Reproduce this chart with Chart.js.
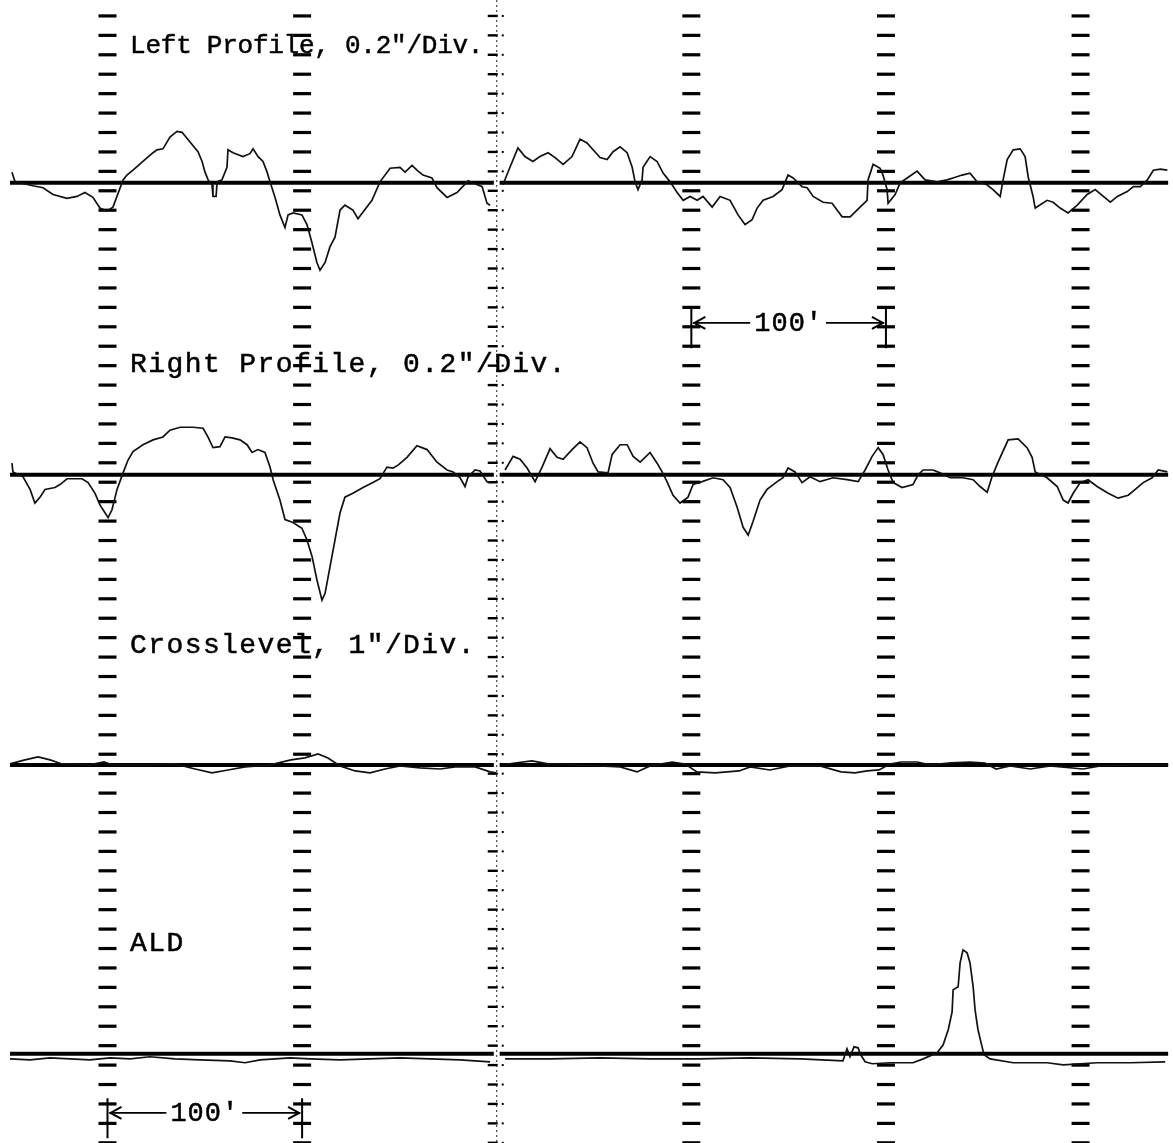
<!DOCTYPE html>
<html>
<head>
<meta charset="utf-8">
<script src="https://cdn.jsdelivr.net/npm/chart.js@4.4.1/dist/chart.umd.min.js"></script>
<style>
  html, body { margin: 0; padding: 0; background: #fff; }
  canvas { display: block; }
</style>
</head>
<body>
<canvas id="strip" width="1173" height="1143"></canvas>
<script>
// Track geometry recording. Distance along track in feet;
// profiles and crosslevel in inches, ALD in chart divisions. null = paper splice.
const leftProfile = [
  [-49.1,0.11],[-47.5,0.01],[-38.3,-0.03],[-33.1,-0.05],[-28.0,-0.12],[-20.8,-0.16],[-15.7,-0.14],[-11.6,-0.10],
  [-7.5,-0.15],[-3.9,-0.26],[-0.3,-0.29],[2.8,-0.25],[8.0,0.03],[10.0,0.08],[13.1,0.13],[18.2,0.22],[23.4,0.31],
  [25.4,0.34],[28.5,0.35],[32.1,0.47],[35.7,0.53],[38.3,0.52],[42.4,0.42],[46.5,0.32],[48.6,0.22],[50.1,0.11],
  [51.7,0.03],[53.7,-0.02],[54.2,-0.14],[55.8,-0.14],[56.3,0.01],[58.8,0.03],[61.4,0.16],[61.9,0.34],[64.5,0.31],
  [69.6,0.27],[73.2,0.30],[74.8,0.35],[77.4,0.27],[79.9,0.22],[82.0,0.11],[83.5,0.01],[86.1,-0.15],[88.6,-0.33],
  [91.2,-0.46],[92.8,-0.33],[95.3,-0.31],[99.9,-0.33],[102.5,-0.43],[105.1,-0.62],[107.6,-0.82],[109.2,-0.90],
  [111.8,-0.82],[114.3,-0.66],[116.9,-0.56],[119.5,-0.28],[122.0,-0.23],[126.1,-0.28],[128.7,-0.37],[131.3,-0.30],
  [135.9,-0.18],[140.0,0.01],[145.2,0.15],[150.3,0.16],[152.9,0.11],[156.5,0.18],[159.0,0.13],[162.1,0.08],
  [166.7,0.05],[169.3,-0.05],[174.5,-0.15],[179.6,-0.10],[185.3,0.02],[188.9,-0.01],[192.5,-0.04],[195.0,-0.21],
  [196.6,-0.23],[200,null],[203.2,-0.02],[206.8,0.16],[210.9,0.36],[214.5,0.27],[218.6,0.22],[222.2,0.27],
  [226.4,0.31],[230.0,0.26],[234.1,0.19],[238.7,0.27],[242.8,0.45],[246.4,0.41],[249.5,0.34],[253.1,0.26],
  [256.7,0.24],[259.8,0.32],[263.4,0.37],[267.0,0.31],[269.6,0.16],[271.1,0.01],[272.6,-0.07],[274.7,0.03],
  [275.2,0.16],[278.8,0.27],[282.4,0.22],[285.5,0.10],[289.1,0.01],[292.7,-0.10],[295.8,-0.18],[299.4,-0.14],
  [303.0,-0.18],[306.0,-0.14],[310.7,-0.25],[314.8,-0.14],[319.9,-0.18],[324.0,-0.33],[327.6,-0.43],[331.2,-0.38],
  [333.8,-0.26],[336.9,-0.18],[342.0,-0.14],[346.6,-0.07],[349.7,0.08],[352.3,0.05],[356.9,-0.04],[359.5,-0.05],
  [362.6,-0.14],[367.7,-0.20],[372.3,-0.21],[377.5,-0.35],[381.6,-0.35],[386.7,-0.25],[390.3,-0.18],[390.8,0.03],
  [393.4,0.19],[397.0,0.15],[398.5,0.08],[400.6,-0.07],[401.1,-0.21],[404.7,-0.12],[407.3,0.00],[410.9,0.05],
  [416.0,0.12],[420.1,0.03],[426.3,0.01],[431.4,0.03],[434.5,0.05],[439.1,0.08],[443.2,0.10],[446.8,0.01],
  [451.9,-0.02],[455.0,-0.07],[458.7,-0.14],[460.2,0.03],[462.3,0.24],[465.4,0.34],[469.0,0.35],[471.5,0.27],
  [473.1,0.06],[475.6,-0.14],[476.7,-0.26],[482.8,-0.18],[485.9,-0.20],[489.5,-0.26],[493.6,-0.31],[498.3,-0.23],
  [503.4,-0.12],[507.5,-0.07],[511.7,-0.14],[515.3,-0.20],[518.9,-0.14],[524.0,-0.09],[527.1,-0.04],[530.7,-0.04],
  [534.3,0.03],[537.4,0.13],[541.0,0.14],[544.6,0.13]
];

const rightProfile = [
  [-49.1,0.12],[-48.6,0.03],[-43.4,-0.02],[-39.8,-0.15],[-37.3,-0.29],[-34.7,-0.23],[-32.1,-0.15],[-27.0,-0.13],
  [-24.4,-0.10],[-20.8,-0.04],[-13.1,-0.04],[-10.0,-0.08],[-6.4,-0.19],[-3.9,-0.31],[-1.3,-0.39],[0.3,-0.44],
  [2.3,-0.36],[4.9,-0.15],[8.0,0.02],[10.5,0.15],[13.1,0.24],[18.2,0.31],[23.4,0.36],[28.5,0.39],[32.1,0.46],
  [37.3,0.49],[43.9,0.49],[49.1,0.48],[51.6,0.39],[54.2,0.28],[57.8,0.29],[60.4,0.39],[64.0,0.38],[68.1,0.36],
  [71.7,0.31],[74.3,0.23],[77.3,0.26],[80.9,0.23],[83.5,0.08],[85.1,-0.05],[88.6,-0.26],[91.2,-0.46],[95.3,-0.49],
  [99.9,-0.55],[102.5,-0.67],[105.1,-0.84],[107.6,-1.08],[110.2,-1.29],[111.8,-1.22],[114.3,-0.95],[116.9,-0.67],
  [119.5,-0.39],[122.0,-0.23],[126.1,-0.19],[131.3,-0.13],[136.4,-0.08],[140.0,-0.04],[143.6,0.08],[146.7,0.07],
  [149.3,0.10],[153.9,0.18],[159.0,0.30],[164.2,0.26],[169.3,0.13],[174.5,0.05],[177.6,0.03],[181.2,-0.03],
  [183.7,-0.12],[185.3,-0.02],[188.9,0.05],[191.4,0.04],[195.0,-0.07],[197.6,-0.08],[200,null],[204.3,0.05],
  [208.4,0.19],[212.0,0.16],[215.6,0.07],[219.7,-0.07],[223.3,0.08],[227.4,0.27],[231.0,0.18],[234.1,0.16],
  [238.7,0.26],[242.8,0.34],[246.4,0.28],[249.5,0.12],[252.1,0.03],[257.2,0.02],[259.3,0.21],[263.4,0.31],
  [267.0,0.31],[270.1,0.19],[273.7,0.13],[278.8,0.23],[282.4,0.12],[285.0,0.03],[287.5,-0.07],[290.6,-0.21],
  [294.2,-0.29],[298.3,-0.23],[300.9,-0.10],[305.5,-0.07],[311.2,-0.03],[316.3,-0.05],[319.9,-0.13],[323.5,-0.33],
  [326.6,-0.54],[329.2,-0.62],[331.7,-0.48],[335.3,-0.26],[338.9,-0.15],[344.1,-0.07],[347.1,-0.03],[349.7,0.07],
  [353.3,0.03],[356.9,-0.08],[361.0,-0.02],[366.1,-0.07],[372.8,-0.03],[380.0,-0.05],[385.7,-0.07],[389.3,0.05],
  [392.9,0.19],[396.0,0.28],[398.5,0.21],[401.1,0.05],[403.7,-0.08],[408.3,-0.13],[413.9,-0.10],[416.5,0.00],
  [419.1,0.05],[424.2,0.05],[427.8,0.02],[433.0,-0.03],[439.6,-0.03],[444.8,-0.05],[448.4,-0.12],[452.0,-0.18],
  [454.5,-0.02],[457.6,0.13],[462.8,0.36],[467.9,0.37],[472.5,0.28],[475.1,0.18],[476.7,0.03],[482.8,-0.03],
  [488.0,-0.12],[491.1,-0.26],[493.6,-0.29],[496.2,-0.19],[499.8,-0.08],[503.9,-0.05],[508.5,-0.12],[514.2,-0.19],
  [519.3,-0.24],[524.5,-0.21],[528.1,-0.15],[532.2,-0.08],[536.8,-0.03],[539.9,0.05],[544.6,0.03]
];

const crosslevel = [
  [-50.1,0.05],[-42.4,0.26],[-35.7,0.41],[-29.5,0.26],[-23.4,0.05],[-9.0,0.00],[-1.8,0.15],[2.3,0.00],
  [21.8,0.00],[34.7,0.05],[45.0,-0.21],[53.7,-0.41],[61.9,-0.26],[70.7,-0.10],[83.5,0.00],[94.3,0.26],
  [101.5,0.36],[108.2,0.57],[113.3,0.36],[119.5,-0.05],[127.2,-0.31],[134.9,-0.41],[142.6,-0.21],[150.3,-0.05],
  [160.6,-0.15],[170.9,-0.21],[178.6,-0.10],[188.9,-0.10],[196.6,-0.36],[199.6,-0.41],[201.5,null],[203.2,0.00],
  [209.4,0.10],[218.1,0.21],[226.4,0.05],[242.8,0.00],[263.4,-0.10],[272.1,-0.36],[278.8,-0.05],[290.1,0.15],
  [296.8,0.05],[302.9,-0.36],[312.2,-0.41],[324.5,-0.31],[330.2,-0.10],[340.4,-0.26],[350.7,-0.05],[366.1,-0.05],
  [376.9,-0.36],[384.1,-0.41],[390.3,-0.31],[396.4,-0.26],[402.1,0.05],[407.8,0.15],[416.0,0.15],[422.7,0.00],
  [433.5,0.10],[443.2,0.15],[450.9,0.10],[456.6,-0.21],[463.8,-0.05],[474.1,-0.21],[484.4,-0.05],[501.3,-0.21],
  [510.1,-0.05],[525.5,0.00],[545.0,0.00]
];

const ald = [
  [-50.1,-0.26],[-39.8,-0.31],[-29.5,-0.21],[-19.3,-0.26],[-9.0,-0.31],[1.3,-0.21],[11.6,-0.26],[21.8,-0.15],
  [34.7,-0.26],[47.5,-0.31],[63.0,-0.36],[70.7,-0.46],[78.4,-0.31],[93.8,-0.21],[104.1,-0.26],[119.5,-0.31],
  [134.9,-0.26],[150.3,-0.21],[165.7,-0.26],[181.2,-0.31],[196.6,-0.41],[200,null],[204.3,-0.26],[227.4,-0.26],
  [253.1,-0.21],[278.8,-0.26],[304.5,-0.26],[330.2,-0.21],[355.9,-0.26],[377.9,-0.36],[380.0,0.26],[381.5,-0.15],
  [383.6,0.36],[385.7,0.31],[386.7,0.00],[389.3,-0.41],[392.9,-0.51],[402.1,-0.46],[413.9,-0.46],[419.1,-0.26],
  [426.3,0.05],[429.4,0.46],[432.0,1.24],[434.0,2.16],[434.5,3.29],[437.1,3.45],[438.1,4.68],[439.6,5.35],
  [441.7,5.20],[443.2,4.68],[444.8,3.45],[445.8,2.26],[447.3,1.24],[449.4,0.36],[450.4,-0.05],[453.5,-0.26],
  [465.4,-0.46],[482.8,-0.46],[491.1,-0.57],[508.5,-0.46],[525.5,-0.46],[543.5,-0.41]
];

const channelNames = ['Left Profile, 0.2"/Div.', 'Right Profile, 0.2"/Div.', 'Crosslevel, 1"/Div.', 'ALD'];
const channelSeries = [leftProfile, rightProfile, crosslevel, ald];
const unitsPerDiv = [0.2, 0.2, 1, 1];
const stationFt = [0, 100, 200, 300, 400, 500];
const spliceFt = 200;
const scaleBarText = "100'";

// ---- layout of the strip (chart units: feet across, divisions up) ----
const X_MIN = -55.24, X_MAX = 547.5;
const Y_MIN = -0.01, Y_MAX = 58.82;
const PEN_START = -50.1, PEN_END = 545.0;
const channelZero = [49.41, 34.38, 19.45, 4.58];
const labelPlace = [
  { ft: 11.6, div: 56.45, size: 26, spacing: -0.25 },
  { ft: 11.6, div: 40.08, size: 28, spacing: 1.4 },
  { ft: 11.6, div: 25.57, size: 28, spacing: 1.4 },
  { ft: 11.6, div: 10.23, size: 28, spacing: 1.4 }
];
const scaleBars = [
  { from: 300, to: 400, div: 42.2 },
  { from: 0, to: 100, div: 1.54 }
];
const FONT = '"Liberation Mono", "DejaVu Sans Mono", monospace';

const datasets = [];
channelSeries.forEach((series, i) => {
  const z = channelZero[i];
  datasets.push({
    label: channelNames[i],
    data: series.map(([x, v]) => ({ x, y: v === null ? null : z + v / unitsPerDiv[i] })),
    borderColor: '#111',
    borderWidth: 1.7,
    pointRadius: 0,
    tension: 0,
    spanGaps: false,
    order: 0
  });
  datasets.push({
    label: channelNames[i] + ' zero',
    data: [
      { x: PEN_START, y: z }, { x: spliceFt - 1.5, y: z }, { x: spliceFt, y: null },
      { x: spliceFt + 1.5, y: z }, { x: PEN_END, y: z }
    ],
    borderColor: '#000',
    borderWidth: 4,
    pointRadius: 0,
    tension: 0,
    spanGaps: false,
    order: 1
  });
});

function typeText(ctx, text, x, y) {
  ctx.fillText(text, x, y);
  ctx.strokeText(text, x, y);
}

const stripDecor = {
  id: 'stripDecor',
  beforeDatasetsDraw(chart) {
    const { ctx, scales: { x: xs, y: ys }, chartArea } = chart;
    ctx.save();
    ctx.fillStyle = '#000';
    for (const ft of stationFt) {
      const px = xs.getPixelForValue(ft);
      if (ft === spliceFt) {
        ctx.save();
        ctx.strokeStyle = '#222';
        ctx.lineWidth = 1;
        ctx.setLineDash([2, 3]);
        ctx.beginPath();
        ctx.moveTo(px, chartArea.top);
        ctx.lineTo(px, chartArea.bottom);
        ctx.stroke();
        ctx.restore();
        for (let d = 0; d <= 58; d++) {
          const py = ys.getPixelForValue(d);
          ctx.fillRect(px - 9, py - 1.2, 10, 2.4);
          ctx.fillRect(px + 5, py - 1, 2, 2);
        }
      } else {
        for (let d = 0; d <= 58; d++) {
          const py = ys.getPixelForValue(d);
          ctx.fillRect(px - 9, py - 1.6, 18, 3.2);
        }
      }
    }
    ctx.restore();
  },
  afterDatasetsDraw(chart) {
    const { ctx, scales: { x: xs, y: ys } } = chart;
    ctx.save();
    ctx.fillStyle = '#000';
    ctx.strokeStyle = '#000';
    ctx.lineWidth = 0.5;
    ctx.textBaseline = 'middle';
    channelNames.forEach((name, i) => {
      const p = labelPlace[i];
      ctx.font = p.size + 'px ' + FONT;
      ctx.letterSpacing = p.spacing + 'px';
      typeText(ctx, name, xs.getPixelForValue(p.ft), ys.getPixelForValue(p.div));
    });

    // 100 ft scale bars
    ctx.font = '27px ' + FONT;
    ctx.letterSpacing = '1px';
    for (const bar of scaleBars) {
      const x0 = xs.getPixelForValue(bar.from);
      const x1 = xs.getPixelForValue(bar.to);
      const y = ys.getPixelForValue(bar.div);
      const yTop = ys.getPixelForValue(bar.div + 0.75);
      const yBot = ys.getPixelForValue(bar.div - 1.3);
      ctx.lineWidth = 2;
      ctx.beginPath();
      ctx.moveTo(x0, yTop); ctx.lineTo(x0, yBot);
      ctx.moveTo(x1, yTop); ctx.lineTo(x1, yBot);
      ctx.stroke();
      const tw = ctx.measureText(scaleBarText).width;
      const mid = (x0 + x1) / 2;
      ctx.textAlign = 'center';
      ctx.lineWidth = 0.5;
      typeText(ctx, scaleBarText, mid, y + 1);
      ctx.textAlign = 'left';
      ctx.lineWidth = 1.6;
      ctx.beginPath();
      ctx.moveTo(x0 + 2, y); ctx.lineTo(mid - tw / 2 - 4, y);
      ctx.moveTo(mid + tw / 2 + 3, y); ctx.lineTo(x1 - 2, y);
      ctx.stroke();
      ctx.lineWidth = 2;
      ctx.beginPath();
      ctx.moveTo(x0 + 14, y - 6); ctx.lineTo(x0 + 3, y); ctx.lineTo(x0 + 14, y + 6);
      ctx.moveTo(x1 - 14, y - 6); ctx.lineTo(x1 - 3, y); ctx.lineTo(x1 - 14, y + 6);
      ctx.stroke();
    }
    ctx.restore();
  }
};

new Chart(document.getElementById('strip'), {
  type: 'line',
  data: { datasets },
  options: {
    responsive: false,
    animation: false,
    devicePixelRatio: 1,
    layout: { padding: 0 },
    plugins: { legend: { display: false }, tooltip: { enabled: false } },
    scales: {
      x: { type: 'linear', min: X_MIN, max: X_MAX, display: false },
      y: { type: 'linear', min: Y_MIN, max: Y_MAX, display: false }
    }
  },
  plugins: [stripDecor]
});
</script>
</body>
</html>
